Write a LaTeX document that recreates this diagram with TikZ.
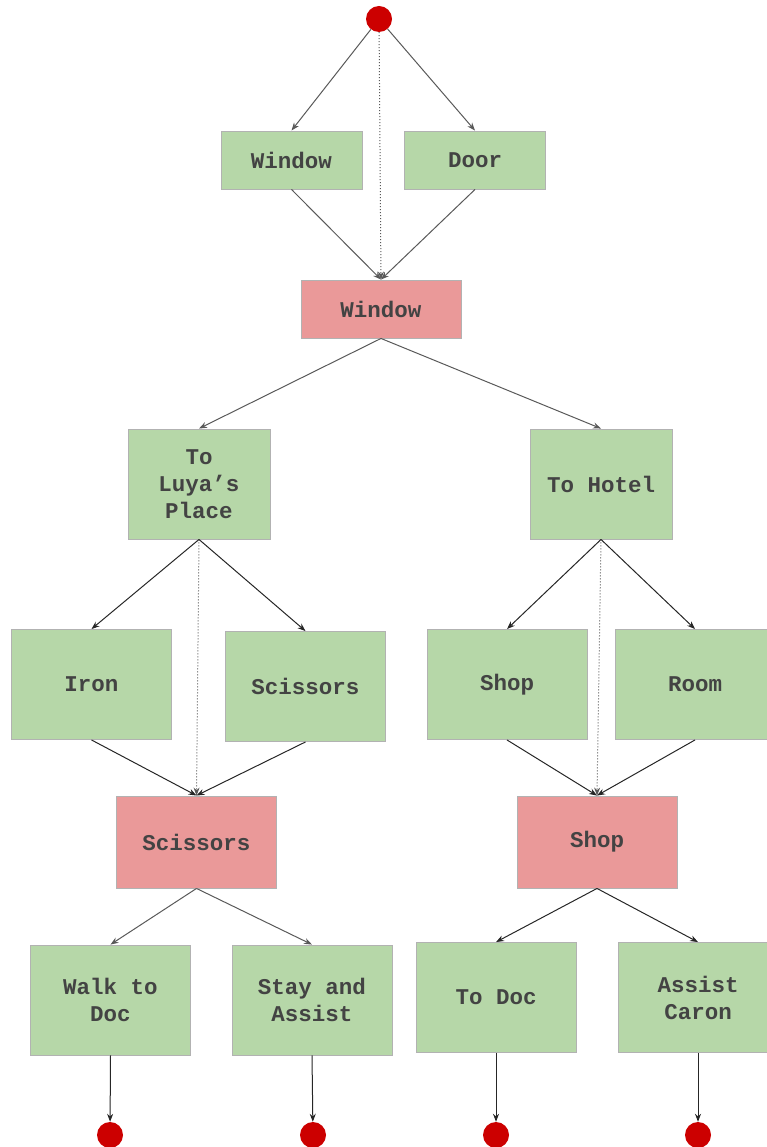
\documentclass[tikz,border=0pt]{standalone}
\usepackage{fontspec}
\setmainfont{Liberation Mono}
\usetikzlibrary{arrows.meta}

\definecolor{optgreen}{HTML}{B6D7A8}
\definecolor{pickred}{HTML}{EA9999}
\definecolor{dotred}{HTML}{CC0000}
\definecolor{inkgray}{HTML}{434343}

\tikzset{
  box/.style={rectangle, draw=black!30, line width=0.9pt, inner sep=0pt,
    font=\fontsize{22.5}{27}\selectfont\bfseries, text=inkgray, align=center},
  opt/.style={box, fill=optgreen},
  pick/.style={box, fill=pickred},
  flat/.style={minimum width=141pt, minimum height=58pt},
  tall/.style={minimum width=160pt, minimum height=110pt},
  mid/.style={minimum width=160pt, minimum height=92pt},
  endpt/.style={circle, fill=dotred, inner sep=0pt, minimum size=26pt},
  flow/.style={-{Stealth[length=8pt,width=6pt]}, line width=1pt, draw=black!85},
  flowgray/.style={flow, draw=black!65},
  hint/.style={-{Stealth[length=8pt,width=6pt]}, dotted, line width=1pt, draw=black!65}
}

\begin{document}
\begin{tikzpicture}[x=1pt, y=-1pt]
  \useasboundingbox (0,0) rectangle (766,1147);

  % top: way in
  \node[endpt] (start) at (379,19) {};
  \node[opt, flat] (window) at (291.5,160) {Window};
  \node[opt, flat] (door) at (475,160) {Door};
  \node[pick, mid, minimum height=58pt] (windowpick) at (381,309) {Window};

  \draw[flowgray] (start) -- (window.north);
  \draw[flowgray] (start) -- (door.north);
  \draw[hint] (start) -- (windowpick.north);
  \draw[flowgray] (window.south) -- (windowpick.north);
  \draw[flowgray] (door.south) -- (windowpick.north);

  % second level
  \node[opt, minimum width=142pt, minimum height=110pt] (luya) at (199,484) {To\\Luya’s\\Place};
  \node[opt, minimum width=142pt, minimum height=110pt] (hotel) at (601,484) {To Hotel};

  \draw[flowgray] (windowpick.south) -- (luya.north);
  \draw[flowgray] (windowpick.south) -- (hotel.north);

  % left branch
  \node[opt, tall] (iron) at (91.5,684.5) {Iron};
  \node[opt, tall] (scissors) at (305.5,686.5) {Scissors};
  \node[pick, mid] (scissorspick) at (196.5,842) {Scissors};

  \draw[flow] (luya.south) -- (iron.north);
  \draw[flow] (luya.south) -- (scissors.north);
  \draw[hint] (luya.south) -- (scissorspick.north);
  \draw[flow] (iron.south) -- (scissorspick.north);
  \draw[flow] (scissors.south) -- (scissorspick.north);

  % right branch
  \node[opt, tall] (shop) at (507,684.5) {Shop};
  \node[opt, tall] (room) at (695,684.5) {Room};
  \node[pick, mid] (shoppick) at (597,842) {Shop};

  \draw[flow] (hotel.south) -- (shop.north);
  \draw[flow] (hotel.south) -- (room.north);
  \draw[hint] (hotel.south) -- (shoppick.north);
  \draw[flow] (shop.south) -- (shoppick.north);
  \draw[flow] (room.south) -- (shoppick.north);

  % endings
  \node[opt, tall] (walk) at (110.5,1000) {Walk to\\Doc};
  \node[opt, tall] (stay) at (312,1000) {Stay and\\Assist};
  \node[opt, tall] (todoc) at (496,997.5) {To Doc};
  \node[opt, tall] (caron) at (698,997.5) {Assist\\Caron};

  \draw[flowgray] (scissorspick.south) -- (walk.north);
  \draw[flowgray] (scissorspick.south) -- (stay.north);
  \draw[flow] (shoppick.south) -- (todoc.north);
  \draw[flow] (shoppick.south) -- (caron.north);

  \node[endpt] (end1) at (110,1135) {};
  \node[endpt] (end2) at (313,1135) {};
  \node[endpt] (end3) at (496,1135) {};
  \node[endpt] (end4) at (698,1135) {};

  \draw[flow] (walk.south) -- (end1);
  \draw[flow] (stay.south) -- (end2);
  \draw[flow] (todoc.south) -- (end3);
  \draw[flow] (caron.south) -- (end4);
\end{tikzpicture}
\end{document}
